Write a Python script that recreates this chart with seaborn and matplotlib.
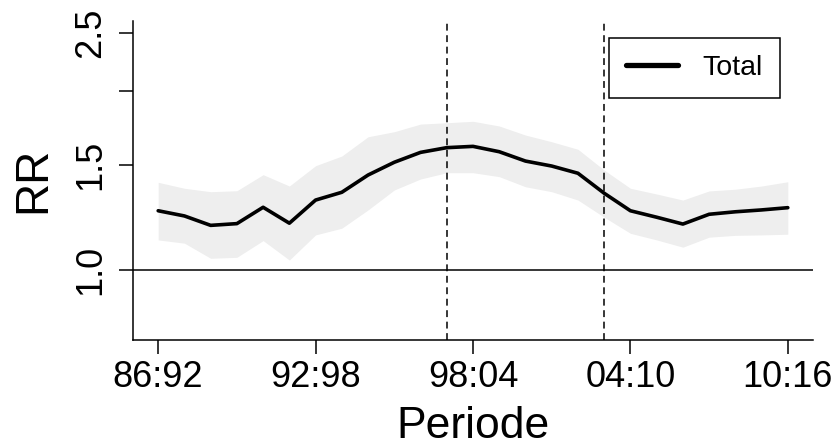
import numpy as np
import pandas as pd
import matplotlib
matplotlib.use("Agg")
import matplotlib.pyplot as plt
import seaborn as sns

# ------------------------------------------------------------------
# data
# ------------------------------------------------------------------
periods = ["86:92", "87:93", "88:94", "89:95", "90:96", "91:97", "92:98",
           "93:99", "94:00", "95:01", "96:02", "97:03", "98:04", "99:05",
           "00:06", "01:07", "02:08", "03:09", "04:10", "05:11", "06:12",
           "07:13", "08:14", "09:15", "10:16"]

rr = [1.257, 1.232, 1.188, 1.196, 1.274, 1.198, 1.310, 1.350, 1.443,
      1.516, 1.575, 1.604, 1.612, 1.579, 1.523, 1.494, 1.453, 1.345,
      1.257, 1.226, 1.194, 1.240, 1.252, 1.261, 1.272]

rr_upper = [1.403, 1.371, 1.353, 1.358, 1.445, 1.383, 1.496, 1.553, 1.673,
            1.706, 1.757, 1.766, 1.776, 1.744, 1.684, 1.641, 1.594, 1.471,
            1.371, 1.341, 1.310, 1.357, 1.366, 1.383, 1.406]

rr_lower = [1.123, 1.109, 1.046, 1.050, 1.120, 1.039, 1.145, 1.175, 1.261,
            1.362, 1.421, 1.456, 1.456, 1.434, 1.379, 1.353, 1.310, 1.226,
            1.152, 1.123, 1.092, 1.135, 1.143, 1.145, 1.148]

marker_periods = ["97:03", "03:09"]
tick_periods = ["86:92", "92:98", "98:04", "04:10", "10:16"]
y_ticks = [1.0, 1.5, 2.0, 2.5]
y_ticklabels = ["1.0", "1.5", "", "2.5"]

df = pd.DataFrame({"idx": np.arange(len(periods)), "periode": periods,
                   "rr": rr, "lo": rr_lower, "hi": rr_upper})

# ------------------------------------------------------------------
# plot
# ------------------------------------------------------------------
sns.set_theme(style="ticks")
plt.rcParams["font.family"] = ["Liberation Sans", "DejaVu Sans"]

fig = plt.figure(figsize=(8.4, 4.48), dpi=100)
ax = fig.add_axes([133 / 840, 1 - 339.5 / 448, 680 / 840, 318.5 / 448])

ax.fill_between(df["idx"], df["lo"], df["hi"], color="#EEEEEE", lw=0)
sns.lineplot(data=df, x="idx", y="rr", ax=ax, color="black", lw=2.6,
             label="Total")

ax.axhline(1.0, color="black", lw=1.1)
for p in marker_periods:
    ax.axvline(periods.index(p), color="black", lw=1.1, dashes=(4.5, 3))

ax.set_yscale("log")
n = len(periods) - 1
ax.set_xlim(-0.04 * n, n + 0.04 * n)
pad = np.exp(0.04 * np.log(2.5 / 0.8))
ax.set_ylim(0.8 / pad, 2.5 * pad)

ax.set_xticks([periods.index(p) for p in tick_periods])
ax.set_xticklabels(tick_periods)
ax.set_yticks(y_ticks)
ax.set_yticklabels(y_ticklabels, rotation=90, va="center")
ax.yaxis.set_minor_locator(matplotlib.ticker.NullLocator())

ax.tick_params(axis="both", labelsize=26, length=10, width=1.1,
               color="black", labelcolor="black")
ax.tick_params(axis="x", pad=5)
ax.tick_params(axis="y", pad=8)

for s in ["top", "right"]:
    ax.spines[s].set_visible(False)
for s in ["left", "bottom"]:
    ax.spines[s].set_color("black")
    ax.spines[s].set_linewidth(1.1)

ax.set_xlabel("Periode", fontsize=32, color="black")
ax.set_ylabel("RR", fontsize=33, color="black")
ax.xaxis.label.set_va("center")
ax.yaxis.label.set_va("center")
ax.xaxis.set_label_coords(0.5, (339.5 - 426) / 318.5)
ax.yaxis.set_label_coords((33 - 133) / 680, 0.5)

leg = ax.legend(loc="upper right", bbox_to_anchor=(780 / 840, 1 - 37.5 / 448),
                bbox_transform=fig.transFigure, fontsize=20.5, frameon=True,
                fancybox=False, borderpad=0.6, handlelength=1.85,
                handletextpad=0.85, borderaxespad=0, labelcolor="black")
leg.get_frame().set_edgecolor("black")
leg.get_frame().set_linewidth(1.1)
leg.get_frame().set_facecolor("white")
leg.get_frame().set_alpha(1)
for h in leg.legend_handles:
    h.set_linewidth(3.8)

fig.savefig("out.png", dpi=100)
